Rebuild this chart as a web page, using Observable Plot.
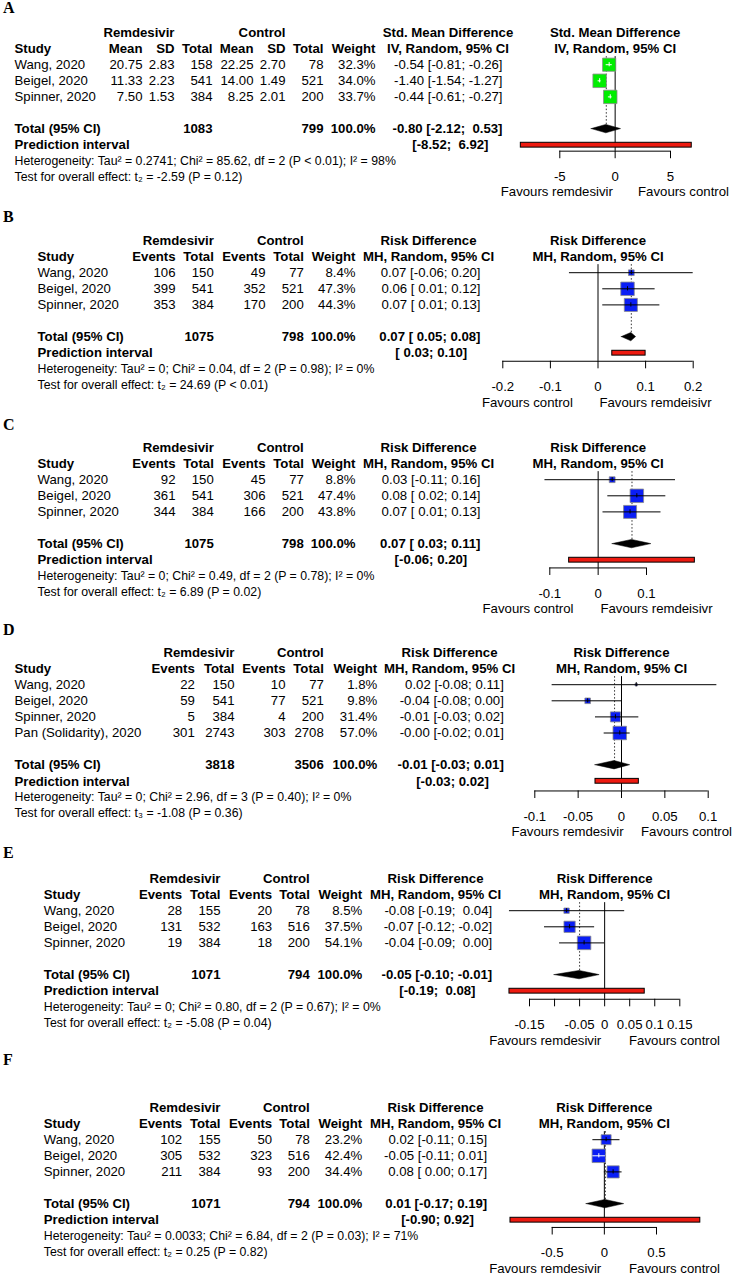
<!DOCTYPE html>
<html><head><meta charset="utf-8">
<script src="https://cdn.jsdelivr.net/npm/d3@7"></script>
<script src="https://cdn.jsdelivr.net/npm/@observablehq/plot@0.6"></script>
<style>
body{margin:0;background:#fff;}
#fig{position:relative;width:734px;height:1275px;overflow:hidden;background:#fff;}
.lbl{position:absolute;left:3px;font-family:"Liberation Serif","Times New Roman",serif;font-weight:bold;font-size:16px;line-height:16px;color:#000;}
</style></head>
<body><div id="fig"></div>
<script>
// ================= DATA =================
const studies3 = ["Wang, 2020", "Beigel, 2020", "Spinner, 2020"];
const studies4 = ["Wang, 2020", "Beigel, 2020", "Spinner, 2020", "Pan (Solidarity), 2020"];

// Panel A (continuous, SMD)
const aMeanE = [20.75, 11.33, 7.50];
const aSdE = [2.83, 2.23, 1.53];
const aTotalE = [158, 541, 384];
const aMeanC = [22.25, 14.00, 8.25];
const aSdC = [2.70, 1.49, 2.01];
const aTotalC = [78, 521, 200];
const aWeight = [32.3, 34.0, 33.7];
const aEst = [-0.54, -1.40, -0.44];
const aLower = [-0.81, -1.54, -0.61];
const aUpper = [-0.26, -1.27, -0.27];
const aSumN = [1083, 799];
const aSummary = [-0.80, -2.12, 0.53];
const aPredict = [-8.52, 6.92];
const aHet = "Heterogeneity: Tau² = 0.2741; Chi² = 85.62, df = 2 (P < 0.01); I² = 98%";
const aTest = "Test for overall effect: t₂ = -2.59 (P = 0.12)";
const aTicks = [-5, 0, 5];
const aTickLabels = ["-5", "0", "5"];
const aFavours = ["Favours remdesivir", "Favours control"];

// Panel B
const bEventsE = [106, 399, 353];
const bTotalE = [150, 541, 384];
const bEventsC = [49, 352, 170];
const bTotalC = [77, 521, 200];
const bWeight = [8.4, 47.3, 44.3];
const bEst = [0.070, 0.062, 0.069];
const bLower = [-0.06, 0.01, 0.01];
const bUpper = [0.20, 0.12, 0.13];
const bSumN = [1075, 798];
const bSummary = [0.07, 0.05, 0.08];
const bPredict = [0.03, 0.10];
const bHet = "Heterogeneity: Tau² = 0; Chi² = 0.04, df = 2 (P = 0.98); I² = 0%";
const bTest = "Test for overall effect: t₂ = 24.69 (P < 0.01)";
const bTicks = [-0.2, -0.1, 0, 0.1, 0.2];
const bTickLabels = ["-0.2", "-0.1", "0", "0.1", "0.2"];
const bFavours = ["Favours control", "Favours remdeisivr"];

// Panel C
const cEventsE = [92, 361, 344];
const cTotalE = [150, 541, 384];
const cEventsC = [45, 306, 166];
const cTotalC = [77, 521, 200];
const cWeight = [8.8, 47.4, 43.8];
const cEst = [0.029, 0.080, 0.066];
const cLower = [-0.11, 0.02, 0.01];
const cUpper = [0.16, 0.14, 0.13];
const cSumN = [1075, 798];
const cSummary = [0.07, 0.03, 0.11];
const cPredict = [-0.06, 0.20];
const cHet = "Heterogeneity: Tau² = 0; Chi² = 0.49, df = 2 (P = 0.78); I² = 0%";
const cTest = "Test for overall effect: t₂ = 6.89 (P = 0.02)";
const cTicks = [-0.1, 0, 0.1];
const cTickLabels = ["-0.1", "0", "0.1"];
const cFavours = ["Favours control", "Favours remdeisivr"];

// Panel D
const dEventsE = [22, 59, 5, 301];
const dTotalE = [150, 541, 384, 2743];
const dEventsC = [10, 77, 4, 303];
const dTotalC = [77, 521, 200, 2708];
const dWeight = [1.8, 9.8, 31.4, 57.0];
const dEst = [0.017, -0.039, -0.007, -0.002];
const dLower = [-0.08, -0.08, -0.03, -0.02];
const dUpper = [0.11, 0.00, 0.02, 0.01];
const dSumN = [3818, 3506];
const dSummary = [-0.008, -0.03, 0.01];
const dPredict = [-0.03, 0.02];
const dHet = "Heterogeneity: Tau² = 0; Chi² = 2.96, df = 3 (P = 0.40); I² = 0%";
const dTest = "Test for overall effect: t₃ = -1.08 (P = 0.36)";
const dTicks = [-0.1, -0.05, 0, 0.05, 0.1];
const dTickLabels = ["-0.1", "-0.05", "0", "0.05", "0.1"];
const dFavours = ["Favours remdesivir", "Favours control"];

// Panel E
const eEventsE = [28, 131, 19];
const eTotalE = [155, 532, 384];
const eEventsC = [20, 163, 18];
const eTotalC = [78, 516, 200];
const eWeight = [8.5, 37.5, 54.1];
const eEst = [-0.076, -0.070, -0.041];
const eLower = [-0.19, -0.12, -0.09];
const eUpper = [0.04, -0.02, 0.00];
const eSumN = [1071, 794];
const eSummary = [-0.05, -0.10, -0.01];
const ePredict = [-0.19, 0.08];
const eHet = "Heterogeneity: Tau² = 0; Chi² = 0.80, df = 2 (P = 0.67); I² = 0%";
const eTest = "Test for overall effect: t₂ = -5.08 (P = 0.04)";
const eTicks = [-0.15, -0.1, -0.05, 0, 0.05, 0.1, 0.15];
const eTickLabels = ["-0.15", "", "-0.05", "0", "0.05", "0.1", "0.15"];
const eFavours = ["Favours remdesivir", "Favours control"];

// Panel F
const fEventsE = [102, 305, 211];
const fTotalE = [155, 532, 384];
const fEventsC = [50, 323, 93];
const fTotalC = [78, 516, 200];
const fWeight = [23.2, 42.4, 34.4];
const fEst = [0.017, -0.053, 0.084];
const fLower = [-0.11, -0.11, 0.00];
const fUpper = [0.15, 0.01, 0.17];
const fSumN = [1071, 794];
const fSummary = [0.01, -0.17, 0.19];
const fPredict = [-0.90, 0.92];
const fHet = "Heterogeneity: Tau² = 0.0033; Chi² = 6.84, df = 2 (P = 0.03); I² = 71%";
const fTest = "Test for overall effect: t₂ = 0.25 (P = 0.82)";
const fTicks = [-0.5, 0, 0.5];
const fTickLabels = ["-0.5", "0", "0.5"];
const fFavours = ["Favours remdesivir", "Favours control"];

// ================= STYLE / LAYOUT =================
const GREEN = "#00ee00", BLUE = "#0a1ef5", RED = "#ee1a10";
const MAX_SIDE = 13.5;
const ROW = 16.1, TOPPAD = 40, SVGH = 260;
const FS = 13.2, FS_SMALL = 12.3;
const FONT = '"Liberation Sans", Arial, Helvetica, sans-serif';

const num2 = v => v.toFixed(2);
const int = v => String(v);

const panels = [
  {letter: "A", studies: studies3, heads: ["Mean","SD","Total","Mean","SD","Total"],
   cols: [[aMeanE,num2],[aSdE,num2],[aTotalE,int],[aMeanC,num2],[aSdC,num2],[aTotalC,int]],
   weight: aWeight, est: aEst, lower: aLower, upper: aUpper, sumN: aSumN, summary: aSummary, predict: aPredict,
   het: aHet, test: aTest, ticks: aTicks, tickLabels: aTickLabels, favours: aFavours,
   h1: "Std. Mean Difference", h2: "IV, Random, 95% CI", color: GREEN},
  {letter: "B", studies: studies3, heads: ["Events","Total","Events","Total"],
   cols: [[bEventsE,int],[bTotalE,int],[bEventsC,int],[bTotalC,int]],
   weight: bWeight, est: bEst, lower: bLower, upper: bUpper, sumN: bSumN, summary: bSummary, predict: bPredict,
   het: bHet, test: bTest, ticks: bTicks, tickLabels: bTickLabels, favours: bFavours,
   h1: "Risk Difference", h2: "MH, Random, 95% CI", color: BLUE},
  {letter: "C", studies: studies3, heads: ["Events","Total","Events","Total"],
   cols: [[cEventsE,int],[cTotalE,int],[cEventsC,int],[cTotalC,int]],
   weight: cWeight, est: cEst, lower: cLower, upper: cUpper, sumN: cSumN, summary: cSummary, predict: cPredict,
   het: cHet, test: cTest, ticks: cTicks, tickLabels: cTickLabels, favours: cFavours,
   h1: "Risk Difference", h2: "MH, Random, 95% CI", color: BLUE},
  {letter: "D", studies: studies4, heads: ["Events","Total","Events","Total"],
   cols: [[dEventsE,int],[dTotalE,int],[dEventsC,int],[dTotalC,int]],
   weight: dWeight, est: dEst, lower: dLower, upper: dUpper, sumN: dSumN, summary: dSummary, predict: dPredict,
   het: dHet, test: dTest, ticks: dTicks, tickLabels: dTickLabels, favours: dFavours,
   h1: "Risk Difference", h2: "MH, Random, 95% CI", color: BLUE},
  {letter: "E", studies: studies3, heads: ["Events","Total","Events","Total"],
   cols: [[eEventsE,int],[eTotalE,int],[eEventsC,int],[eTotalC,int]],
   weight: eWeight, est: eEst, lower: eLower, upper: eUpper, sumN: eSumN, summary: eSummary, predict: ePredict,
   het: eHet, test: eTest, ticks: eTicks, tickLabels: eTickLabels, favours: eFavours,
   h1: "Risk Difference", h2: "MH, Random, 95% CI", color: BLUE},
  {letter: "F", studies: studies3, heads: ["Events","Total","Events","Total"],
   cols: [[fEventsE,int],[fTotalE,int],[fEventsC,int],[fTotalC,int]],
   weight: fWeight, est: fEst, lower: fLower, upper: fUpper, sumN: fSumN, summary: fSummary, predict: fPredict,
   het: fHet, test: fTest, ticks: fTicks, tickLabels: fTickLabels, favours: fFavours,
   h1: "Risk Difference", h2: "MH, Random, 95% CI", color: BLUE}
];

const layouts = [
  {Y0: 32.3, letterBase: 13.5, study: 14, colX: [142,174,212,253,285,323], weightX: 375, ciRight: 502, predRight: 488, ciHead: 447.5,
   xDomain: [-5,5], xRange: [559.3,670], axisRow: 7.37, fav: [556.3,683]},
  {Y0: 240, letterBase: 222.3, study: 37, colX: [175,213.3,265,303.3], weightX: 355, ciRight: 480, predRight: 466.7, ciHead: 428,
   xDomain: [-0.2,0.2], xRange: [502.3,692.7], axisRow: 7.5, fav: [526.9,655]},
  {Y0: 447.3, letterBase: 430, study: 37, colX: [175,213.3,265,303.3], weightX: 355, ciRight: 480, predRight: 466.7, ciHead: 428,
   xDomain: [-0.1,0.1], xRange: [549.3,646], axisRow: 7.48, fav: [527.5,656]},
  {Y0: 652.3, letterBase: 635.7, study: 14, colX: [194.3,234,285,323.3], weightX: 376.7, ciRight: 503.3, predRight: 488.3, ciHead: 449,
   xDomain: [-0.1,0.1], xRange: [534.3,707.7], axisRow: 8.6, fav: [567,686]},
  {Y0: 878.3, letterBase: 858.3, study: 43.3, colX: [181.7,220,271.7,309.3], weightX: 361.7, ciRight: 491.7, predRight: 475, ciHead: 435,
   xDomain: [-0.15,0.15], xRange: [529,679.3], axisRow: 7.5, fav: [544.7,674]},
  {Y0: 1106.7, letterBase: 1065, study: 43.3, colX: [181.7,220,271.7,309.3], weightX: 361.7, ciRight: 486.7, predRight: 473.3, ciHead: 435,
   xDomain: [-0.5,0.5], xRange: [551.7,656], axisRow: 7.45, fav: [544.7,674]}
];

// ================= BUILD =================
function buildPanel(p, L) {
  const n = p.studies.length;
  const k = p.cols.length / 2;
  const rTotal = n + 3, rPred = n + 4, rHet = n + 5, rTest = n + 6;
  const allLo = [...p.lower, p.summary[1], p.predict[0]];
  const allHi = [...p.upper, p.summary[2], p.predict[1]];
  const padLo = allLo.some(v => v < 0), padHi = allHi.some(v => v < 0);
  const fb = (v, pad) => (pad && v >= 0 ? " " : "") + v.toFixed(2);
  const ci = (lo, hi) => `[${fb(lo, padLo)}; ${fb(hi, padHi)}]`;
  const pxPerUnit = (L.xRange[1] - L.xRange[0]) / (L.xDomain[1] - L.xDomain[0]);
  const wMax = Math.max(...p.weight);
  const side = w => MAX_SIDE * Math.sqrt(w / wMax);

  const rows = p.studies.map((s, i) => ({
    r: 2 + i, study: s, est: p.est[i], lo: p.lower[i], hi: p.upper[i], w: p.weight[i],
    cells: p.cols.map(([vals, fmt]) => fmt(vals[i])),
    weightText: p.weight[i].toFixed(1) + "%",
    ciText: `${p.est[i].toFixed(2)} ${ci(p.lower[i], p.upper[i])}`,
    inside: (p.upper[i] - p.lower[i]) * pxPerUnit < side(p.weight[i])
  }));

  const col = (data, x, anchor, text, bold = false, size = FS) =>
    Plot.text(data, {y: "r", text, frameAnchor: "left", dx: x, textAnchor: anchor,
      fontSize: size, fontWeight: bold ? "bold" : "normal", fill: "black"});

  const marks = [];
  // header rows
  const h0 = [{r: 0}], h1 = [{r: 1}];
  marks.push(col(h0, L.colX[1], "end", () => "Remdesivir", true));
  marks.push(col(h0, L.colX[k + 1], "end", () => "Control", true));
  marks.push(col(h0, L.ciHead, "middle", () => p.h1, true));
  marks.push(col(h1, L.study, "start", () => "Study", true));
  p.heads.forEach((h, j) => marks.push(col(h1, L.colX[j], "end", () => h, true)));
  marks.push(col(h1, L.weightX, "end", () => "Weight", true));
  marks.push(col(h1, L.ciHead, "middle", () => p.h2, true));
  // study rows
  marks.push(col(rows, L.study, "start", "study"));
  p.cols.forEach((c, j) => marks.push(col(rows, L.colX[j], "end", d => d.cells[j])));
  marks.push(col(rows, L.weightX, "end", "weightText"));
  marks.push(col(rows, L.ciRight, "end", "ciText"));
  // total row
  const tot = [{r: rTotal}];
  marks.push(col(tot, L.study, "start", () => "Total (95% CI)", true));
  marks.push(col(tot, L.colX[k - 1], "end", () => String(p.sumN[0]), true));
  marks.push(col(tot, L.colX[2 * k - 1], "end", () => String(p.sumN[1]), true));
  marks.push(col(tot, L.weightX, "end", () => "100.0%", true));
  marks.push(col(tot, L.ciRight, "end", () => `${p.summary[0].toFixed(2)} ${ci(p.summary[1], p.summary[2])}`, true));
  // prediction row
  const pr = [{r: rPred}];
  marks.push(col(pr, L.study, "start", () => "Prediction interval", true));
  marks.push(col(pr, L.predRight, "end", () => ci(p.predict[0], p.predict[1]), true));
  // heterogeneity / test
  marks.push(col([{r: rHet}], L.study, "start", () => p.het, false, FS_SMALL));
  marks.push(col([{r: rTest}], L.study, "start", () => p.test, false, FS_SMALL));

  // forest header
  marks.push(Plot.text([p.h1], {x: () => 0, y: () => 0, text: d => d, fontSize: FS, fontWeight: "bold", fill: "black"}));
  marks.push(Plot.text([p.h2], {x: () => 0, y: () => 1, text: d => d, fontSize: FS, fontWeight: "bold", fill: "black"}));

  // reference line and dotted summary line
  marks.push(Plot.ruleX([0], {y1: 1.5, y2: L.axisRow, stroke: "black", strokeWidth: 1}));
  marks.push(Plot.ruleX([p.summary[0]], {y1: 1.5, y2: rTotal - 0.25, stroke: "#333", strokeWidth: 1, strokeDasharray: "1.5,2"}));

  // squares
  marks.push(Plot.dot(rows, {x: "est", y: "r", r: "w", symbol: "square", fill: p.color, stroke: "#8a8a8a", strokeWidth: 0.8}));
  // CI lines and centre ticks
  const outs = rows.filter(d => !d.inside), ins = rows.filter(d => d.inside);
  marks.push(Plot.ruleY(outs, {y: "r", x1: "lo", x2: "hi", stroke: "black", strokeWidth: 1}));
  marks.push(Plot.ruleY(ins, {y: "r", x1: "lo", x2: "hi", stroke: "white", strokeWidth: 1}));
  marks.push(Plot.ruleX(outs, {x: "est", y1: d => d.r - 0.13, y2: d => d.r + 0.13, stroke: "black", strokeWidth: 1}));
  marks.push(Plot.ruleX(ins, {x: "est", y1: d => d.r - 0.13, y2: d => d.r + 0.13, stroke: "white", strokeWidth: 1}));

  // diamond
  const dia = [
    {x: p.summary[1], y1: rTotal, y2: rTotal},
    {x: p.summary[0], y1: rTotal - 0.26, y2: rTotal + 0.26},
    {x: p.summary[2], y1: rTotal, y2: rTotal}
  ];
  marks.push(Plot.area(dia, {x1: "x", y1: "y1", y2: "y2", fill: "black", stroke: "black", strokeWidth: 0.5}));

  // prediction interval bar
  marks.push(Plot.rect([p.predict], {x1: d => d[0], x2: d => d[1], y1: rPred - 0.15, y2: rPred + 0.15, fill: RED, stroke: "black", strokeWidth: 1}));

  // axis
  const tk = p.ticks.map((v, i) => ({v, label: p.tickLabels[i]}));
  marks.push(Plot.ruleY([L.axisRow], {x1: p.ticks[0], x2: p.ticks[p.ticks.length - 1], stroke: "black", strokeWidth: 1}));
  marks.push(Plot.ruleX(tk, {x: "v", y1: L.axisRow, y2: L.axisRow + 0.47, stroke: "black", strokeWidth: 1}));
  marks.push(Plot.text(tk, {x: "v", y: L.axisRow + 1.58, text: "label", fontSize: FS, fill: "black"}));
  // favours labels
  const fy = [{r: L.axisRow + 2.55}];
  marks.push(col(fy, L.fav[0], "middle", () => p.favours[0]));
  marks.push(col(fy, L.fav[1], "middle", () => p.favours[1]));

  const svg = Plot.plot({
    width: 734, height: SVGH,
    marginTop: 0, marginRight: 0, marginBottom: 0, marginLeft: 0,
    x: {domain: L.xDomain, range: L.xRange, axis: null},
    y: {domain: [0, 10], range: [TOPPAD, TOPPAD + 10 * ROW], axis: null},
    r: {type: "sqrt", domain: [0, wMax], range: [0, MAX_SIDE / Math.sqrt(Math.PI)]},
    style: {background: "transparent", overflow: "visible", fontFamily: FONT, color: "black"},
    marks
  });
  svg.style.position = "absolute";
  svg.style.left = "0px";
  svg.style.top = (L.Y0 - TOPPAD) + "px";
  return svg;
}

const fig = document.getElementById("fig");
panels.forEach((p, i) => {
  const L = layouts[i];
  fig.appendChild(buildPanel(p, L));
  const lab = document.createElement("div");
  lab.className = "lbl";
  lab.textContent = p.letter;
  lab.style.top = (L.letterBase - 13.4) + "px";
  fig.appendChild(lab);
});
</script>
</body></html>
